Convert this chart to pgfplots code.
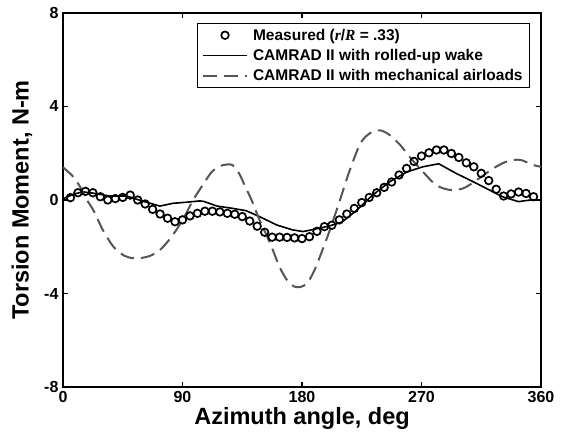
\documentclass[border=0pt]{standalone}
\usepackage{pgfplots}
\pgfplotsset{compat=1.18}
\usepackage{fontspec}
\setmainfont{Liberation Sans}
\newfontfamily\serifrm{Liberation Serif}
\definecolor{dashgray}{RGB}{85,85,85}
\begin{document}
\begin{tikzpicture}
\begin{axis}[
  scale only axis,
  width=478pt, height=374pt,
  xmin=0, xmax=360, ymin=-8, ymax=8,
  xtick={0,90,180,270,360},
  ytick={-8,-4,0,4,8},
  tick align=inside,
  major tick length=5pt,
  axis line style={line width=1.1pt},
  every tick/.style={black, line width=1.1pt},
  /pgf/number format/assume math mode=true,
  tick label style={font=\fontsize{16}{19}\selectfont\bfseries},
  xticklabel style={yshift=-1pt},
  yticklabel style={xshift=-1pt},
  xlabel={Azimuth angle, deg},
  ylabel={Torsion Moment, N-m},
  label style={font=\fontsize{23.5}{28}\selectfont\bfseries},
  xlabel style={at={(axis description cs:0.5,-0.083)}, anchor=center},
  ylabel style={at={(axis description cs:-0.086,0.5)}, anchor=center},
  legend style={at={(axis description cs:0.977,0.972)}, anchor=north east,
    draw=black, line width=0.8pt, font=\fontsize{15.5}{18.5}\selectfont\bfseries,
    cells={anchor=west}, inner xsep=5pt, inner ysep=3pt, row sep=3.5pt, column sep=3pt},
  legend image code/.code={\draw[mark repeat=2,mark phase=2,#1] plot coordinates {(0pt,0pt) (22pt,0pt) (44pt,0pt)};},
  clip=true,
]
\addplot[only marks, mark=o, mark size=3.8pt, mark options={line width=1.7pt, black}, black] coordinates {
(5.625,0.10) (11.25,0.31) (16.875,0.37) (22.5,0.31) (28.125,0.14) (33.75,0.00) (39.375,0.06) (45,0.11)
(50.625,0.21) (56.25,0.00) (61.875,-0.17) (67.5,-0.40) (73.125,-0.60) (78.75,-0.78) (84.375,-0.93) (90,-0.85)
(95.625,-0.68) (101.25,-0.57) (106.875,-0.48) (112.5,-0.48) (118.125,-0.51) (123.75,-0.57) (129.375,-0.61) (135,-0.71)
(140.625,-0.90) (146.25,-1.12) (151.875,-1.38) (157.5,-1.59) (163.125,-1.59) (168.75,-1.60) (174.375,-1.62) (180,-1.65)
(185.625,-1.57) (191.25,-1.34) (196.875,-1.14) (202.5,-1.08) (208.125,-0.85) (213.75,-0.60) (219.375,-0.36) (225,-0.11)
(230.625,0.11) (236.25,0.31) (241.875,0.54) (247.5,0.77) (253.125,1.07) (258.75,1.35) (264.375,1.65) (270,1.88)
(275.625,2.02) (281.25,2.14) (286.875,2.14) (292.5,1.99) (298.125,1.82) (303.75,1.59) (309.375,1.42) (315,1.14)
(320.625,0.83) (326.25,0.46) (331.875,0.17) (337.5,0.26) (343.125,0.34) (348.75,0.28) (354.375,0.14)
};
\addlegendentry{Measured ({\serifrm\itshape r}/{\serifrm\itshape R} = .33)}
\addplot[black, line width=1.6pt] coordinates {
(0,0.05) (8,0.25) (15,0.35) (23,0.29) (35,0.17) (48,0.17) (60,-0.05) (73,-0.26) (83,-0.14) (92,-0.10) (103,-0.04)
(106,-0.06) (116,-0.26) (128,-0.36) (138,-0.46) (148,-0.71) (161,-1.07) (173,-1.28) (181,-1.35) (191,-1.23)
(200,-1.12) (210,-0.95) (221,-0.45) (233,0.2) (246,0.78) (259,1.2) (271,1.42) (283,1.55) (296,1.14)
(309,0.78) (321,0.43) (331,0.14) (343,-0.07) (352,0.0) (360,0.0)
};
\addlegendentry{CAMRAD II with rolled-up wake}
\addplot[dashgray, line width=2pt, dash pattern=on 14pt off 7pt, smooth] coordinates {
(0,1.40) (4,1.2) (8,0.98) (13,0.55) (18,0.0) (23,-0.45) (30,-1.28) (38,-2.0) (46,-2.38) (53,-2.49)
(60,-2.47) (66,-2.38) (73,-2.14) (80,-1.7) (87,-1.14) (93,-0.55) (98,0.0) (105,0.62) (112,1.2) (118,1.45)
(124,1.52) (128,1.48) (133,1.1) (137,0.6) (142,0.0) (148,-0.85) (156,-1.85) (163,-2.85) (169,-3.45) (174,-3.7)
(179,-3.72) (184,-3.55) (189,-3.05) (194,-2.35) (201,-1.28) (208.6,0.0) (216,1.28) (224,2.42) (231,2.85) (238.7,2.98)
(246,2.78) (254,2.35) (261,1.85) (271,1.21) (281,0.64) (291.5,0.43) (301.5,0.5) (311.5,0.85) (324,1.35) (334,1.64)
(344,1.72) (354,1.5) (360,1.42)
};
\addlegendentry{CAMRAD II with mechanical airloads}
\end{axis}
\pgfresetboundingbox
\path (current axis.south west) ++(-63pt,-49pt) rectangle ++(562pt,436pt);
\end{tikzpicture}
\end{document}
